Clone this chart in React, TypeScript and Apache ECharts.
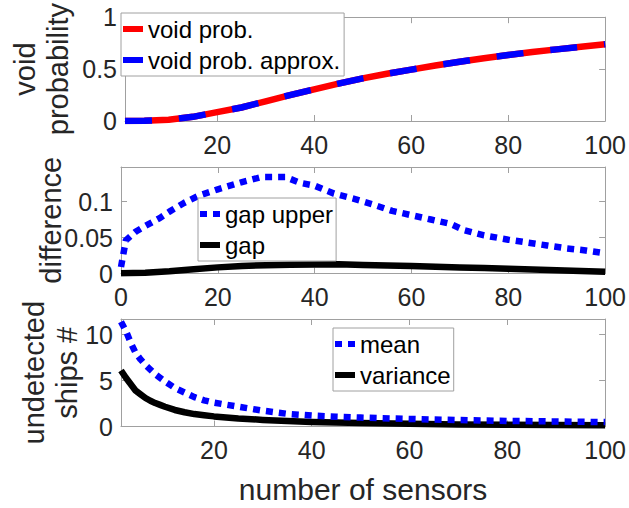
import React, { useEffect, useRef } from "react";
import * as echarts from "echarts";

// ---------- data ----------
const xVoid = [1, 5, 10, 15, 20, 25, 30, 35, 40, 45, 50, 55, 60, 65, 70, 75, 80, 85, 90, 95, 100];
const voidProb = [0, 0.003, 0.012, 0.04, 0.085, 0.13, 0.19, 0.25, 0.305, 0.36, 0.41, 0.455, 0.495, 0.535, 0.57, 0.605, 0.635, 0.665, 0.69, 0.715, 0.74];
const voidProbApprox = [0, 0.003, 0.012, 0.04, 0.085, 0.13, 0.19, 0.25, 0.305, 0.36, 0.41, 0.455, 0.495, 0.535, 0.57, 0.605, 0.635, 0.665, 0.69, 0.715, 0.74];

const xGapUpper = [0, 1, 3, 5, 8, 10, 13, 16, 20, 25, 29, 34, 37, 40, 44, 48, 52, 56, 60, 64, 68, 71, 75, 80, 84, 88, 92, 96, 100];
const gapUpper = [0.009, 0.046, 0.058, 0.066, 0.077, 0.086, 0.098, 0.108, 0.117, 0.127, 0.134, 0.134, 0.126, 0.122, 0.111, 0.104, 0.096, 0.087, 0.081, 0.075, 0.069, 0.06, 0.053, 0.047, 0.043, 0.039, 0.035, 0.032, 0.028];

const xGap = [0, 5, 10, 15, 20, 25, 30, 35, 40, 45, 50, 55, 60, 65, 70, 75, 80, 85, 90, 95, 100];
const gap = [0.0005, 0.001, 0.003, 0.006, 0.0085, 0.0105, 0.0115, 0.012, 0.0125, 0.0128, 0.0118, 0.011, 0.0103, 0.0093, 0.0083, 0.0075, 0.0066, 0.0056, 0.0046, 0.0036, 0.0025];

const xShips = [1, 2, 3, 4, 5, 6, 7, 8, 9, 10, 12, 14, 16, 18, 20, 25, 30, 35, 40, 45, 50, 60, 70, 80, 90, 100];
const meanShips = [11.4, 10.4, 9.1, 8.0, 7.3, 6.7, 6.2, 5.7, 5.3, 4.9, 4.2, 3.7, 3.2, 2.85, 2.6, 2.15, 1.72, 1.38, 1.19, 1.07, 0.97, 0.82, 0.7, 0.61, 0.55, 0.48];
const varShips = [6.1, 5.3, 4.6, 3.9, 3.5, 3.1, 2.8, 2.55, 2.35, 2.15, 1.8, 1.55, 1.35, 1.22, 1.1, 0.88, 0.72, 0.6, 0.5, 0.43, 0.37, 0.29, 0.23, 0.19, 0.16, 0.13];

const xTicks1 = [20, 40, 60, 80, 100];
const xTicks2 = [0, 20, 40, 60, 80, 100];
const yTicks1 = [0, 0.5, 1];
const yTicks2 = [0, 0.05, 0.1];
const yTicks3 = [0, 5, 10];

const FONT = "'Liberation Sans', Arial, sans-serif";
const AXIS = "#a0a0a0";
const TXT = "#262626";

function pairs(xs: number[], ys: number[]) {
  return xs.map((x, i) => [x, ys[i]]);
}

export default function App() {
  const ref = useRef<HTMLDivElement>(null);
  useEffect(() => {
    document.body.style.margin = "0";
    if (!ref.current) return;
    const chart = echarts.init(ref.current, null, { renderer: "svg" });

    const grids = [
      { left: 121, right: 23, top: 13, height: 108 },
      { left: 121, right: 23, top: 167, height: 106.5 },
      { left: 121, right: 23, top: 319, height: 107.5 },
    ];
    const xRanges = [
      { min: 1, max: 100, ticks: xTicks1 },
      { min: 0, max: 100, ticks: xTicks2 },
      { min: 1, max: 100, ticks: xTicks1 },
    ];
    const yRanges = [
      { min: 0, max: 1, ticks: yTicks1, name: "void\nprobability", gap: 51 },
      { min: 0, max: 0.148, ticks: yTicks2, name: "difference", gap: 54 },
      { min: 0, max: 11.7, ticks: yTicks3, name: "undetected\nships #", gap: 38 },
    ];

    const xAxis: any[] = [];
    const yAxis: any[] = [];
    grids.forEach((_, i) => {
      const xr = xRanges[i];
      const base = {
        type: "value",
        gridIndex: i,
        min: xr.min,
        max: xr.max,
        axisLine: { show: true, onZero: false, lineStyle: { color: AXIS, width: 1 } },
        axisTick: { show: true, inside: true, length: 6, lineStyle: { color: AXIS }, customValues: xr.ticks },
        splitLine: { show: false },
      };
      xAxis.push({
        ...base,
        position: "bottom",
        axisLabel: { show: true, customValues: xr.ticks, fontSize: 25, color: TXT, fontFamily: FONT, margin: 11 },
        ...(i === 2
          ? {
              name: "number of sensors",
              nameLocation: "middle",
              nameGap: 48,
              nameMoveOverlap: false,
              nameTextStyle: { fontSize: 30, color: TXT, fontFamily: FONT },
            }
          : {}),
      });
      xAxis.push({ ...base, position: "top", axisLabel: { show: false } });

      const yr = yRanges[i];
      const ybase = {
        type: "value",
        gridIndex: i,
        min: yr.min,
        max: yr.max,
        axisLine: { show: true, onZero: false, lineStyle: { color: AXIS, width: 1 } },
        axisTick: { show: true, inside: true, length: 6, lineStyle: { color: AXIS }, customValues: yr.ticks },
        splitLine: { show: false },
      };
      yAxis.push({
        ...ybase,
        position: "left",
        axisLabel: { show: true, customValues: yr.ticks, fontSize: 25, color: TXT, fontFamily: FONT, margin: 8 },
        name: yr.name,
        nameLocation: "middle",
        nameRotate: 90,
        nameGap: yr.gap,
        nameMoveOverlap: false,
        nameTextStyle: { fontSize: 29, lineHeight: 33, color: TXT, fontFamily: FONT },
      });
      yAxis.push({ ...ybase, position: "right", axisLabel: { show: false } });
    });

    const line = (name: string, gi: number, data: number[][], color: string, width: number, type: any, z: number) => ({
      name,
      type: "line",
      xAxisIndex: gi * 2,
      yAxisIndex: gi * 2,
      data,
      symbol: "none",
      showSymbol: false,
      smooth: false,
      z,
      itemStyle: { color },
      lineStyle: { color, width, type, cap: "butt", join: "round" },
    });

    const dotIcon = "path://M0,0h7v6h-7zM13,0h7v6h-7z";
    const legendBase = {
      orient: "vertical",
      selectedMode: false,
      itemWidth: 20,
      itemHeight: 6,
      itemGap: 1,
      padding: [1, 4, 1, 2],
      borderColor: AXIS,
      borderWidth: 1,
      backgroundColor: "#ffffff",
      textStyle: { fontSize: 24, lineHeight: 30, color: "#000", fontFamily: FONT },
      z: 10,
    };

    const option: any = {
      animation: false,
      textStyle: { fontFamily: FONT },
      grid: grids,
      xAxis,
      yAxis,
      legend: [
        {
          ...legendBase,
          left: 121,
          top: 13,
          data: [
            { name: "void prob.", icon: "rect" },
            { name: "void prob. approx.", icon: "rect" },
          ],
        },
        {
          ...legendBase,
          left: 198,
          top: 198,
          padding: [1, 3, 1, 2],
          data: [
            { name: "gap upper", icon: dotIcon },
            { name: "gap", icon: "rect" },
          ],
        },
        {
          ...legendBase,
          left: 333,
          top: 328,
          padding: [1, 3, 1, 2],
          data: [
            { name: "mean", icon: dotIcon },
            { name: "variance", icon: "rect" },
          ],
        },
      ],
      series: [
        line("void prob.", 0, pairs(xVoid, voidProb), "#ff0000", 6.5, "solid", 2),
        line("void prob. approx.", 0, pairs(xVoid, voidProbApprox), "#0000ff", 6.5, [27, 27], 3),
        line("gap", 1, pairs(xGap, gap), "#000000", 6.5, "solid", 2),
        line("gap upper", 1, pairs(xGapUpper, gapUpper), "#0000ff", 6.5, [7, 6], 3),
        line("variance", 2, pairs(xShips, varShips), "#000000", 6.5, "solid", 2),
        line("mean", 2, pairs(xShips, meanShips), "#0000ff", 6.5, [7, 6], 3),
      ],
    };
    chart.setOption(option);
    return () => chart.dispose();
  }, []);
  return <div ref={ref} style={{ width: 629, height: 508 }} />;
}
